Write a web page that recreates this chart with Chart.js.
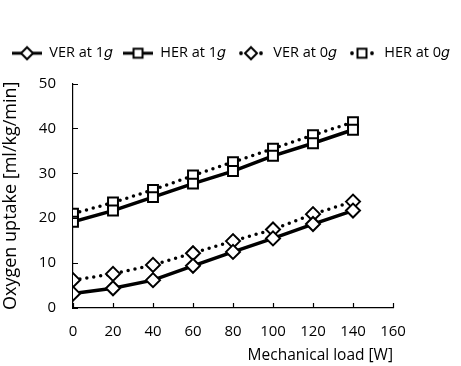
<!DOCTYPE html>
<html>
<head>
<meta charset="utf-8">
<script src="https://cdn.jsdelivr.net/npm/chart.js@4/dist/chart.umd.min.js"></script>
<style>
  html, body { margin: 0; padding: 0; background: #fff; }
  #wrap { width: 461px; height: 366px; position: relative; }
</style>
</head>
<body>
<div id="wrap"><canvas id="chart"></canvas></div>
<script>
// mechanical load [W]
const loads = [0, 20, 40, 60, 80, 100, 120, 140];
// oxygen uptake [ml/kg/min]
const ver1g = [3.2, 4.4, 6.2, 9.4, 12.5, 15.5, 18.7, 21.7];
const her1g = [19.2, 21.7, 24.7, 27.7, 30.5, 33.9, 36.7, 39.7];
const ver0g = [6.2, 7.6, 9.6, 12.2, 14.9, 17.5, 20.9, 23.7];
const her0g = [21.0, 23.5, 26.3, 29.5, 32.5, 35.5, 38.5, 41.4];
const seriesNames = ["VER at 1\u{1D454}", "HER at 1\u{1D454}", "VER at 0\u{1D454}", "HER at 0\u{1D454}"];
const xTicks = [0, 20, 40, 60, 80, 100, 120, 140, 160];
const yTicks = [0, 10, 20, 30, 40, 50];

const FONT = "'Open Sans', 'DejaVu Sans', sans-serif";

const toPoints = (ys) => loads.map((x, i) => ({ x: x, y: ys[i] }));

// little legend symbol: line (solid or dotted) with the marker in the middle
function legendSymbol(marker, dotted) {
  const c = document.createElement("canvas");
  c.width = 30;
  c.height = 16;
  const ctx = c.getContext("2d");
  ctx.fillStyle = "#000";
  if (dotted) {
    [5, 25].forEach(x => {
      ctx.beginPath();
      ctx.arc(x, 8, 1.9, 0, Math.PI * 2);
      ctx.fill();
    });
  } else {
    ctx.fillRect(0, 6.5, 30, 3);
  }
  ctx.lineWidth = 2;
  ctx.strokeStyle = "#000";
  ctx.fillStyle = "#fff";
  ctx.beginPath();
  if (marker === "rectRot") {
    ctx.moveTo(15, 2); ctx.lineTo(21, 8); ctx.lineTo(15, 14); ctx.lineTo(9, 8);
    ctx.closePath();
  } else {
    ctx.rect(10.5, 3.5, 9, 9);
  }
  ctx.fill();
  ctx.stroke();
  return c;
}

const styles = [
  { marker: "rectRot", dotted: false },
  { marker: "rect", dotted: false },
  { marker: "rectRot", dotted: true },
  { marker: "rect", dotted: true },
];
const symbols = styles.map(s => legendSymbol(s.marker, s.dotted));

function makeDataset(i, ys) {
  const s = styles[i];
  return {
    label: seriesNames[i],
    data: toPoints(ys),
    borderColor: "#000",
    backgroundColor: "#fff",
    borderWidth: 3.5,
    borderDash: s.dotted ? [0, 7] : [],
    borderCapStyle: s.dotted ? "round" : "butt",
    pointStyle: s.marker,
    pointRadius: 7,
    pointBorderWidth: 2,
    pointBackgroundColor: "#fff",
    pointBorderColor: "#000",
    tension: 0,
  };
}

// tick marks drawn inward, like the original
const innerTicks = {
  id: "innerTicks",
  afterDraw(chart) {
    const { ctx, chartArea, scales } = chart;
    ctx.save();
    ctx.strokeStyle = "#000";
    ctx.lineWidth = 1.2;
    ctx.beginPath();
    yTicks.forEach(v => {
      const py = Math.round(scales.y.getPixelForValue(v)) + 0.5;
      ctx.moveTo(chartArea.left, py);
      ctx.lineTo(chartArea.left + 5, py);
    });
    xTicks.forEach(v => {
      const px = Math.round(scales.x.getPixelForValue(v)) + 0.5;
      ctx.moveTo(px, chartArea.bottom);
      ctx.lineTo(px, chartArea.bottom - 5);
    });
    ctx.stroke();
    ctx.restore();
  }
};

// extra gap under the legend
const legendGap = {
  id: "legendGap",
  beforeInit(chart) {
    const fit = chart.legend.fit;
    chart.legend.fit = function () {
      fit.call(this);
      this.height += 13;
    };
  }
};

new Chart(document.getElementById("chart"), {
  type: "line",
  data: {
    datasets: [
      makeDataset(0, ver1g),
      makeDataset(1, her1g),
      makeDataset(2, ver0g),
      makeDataset(3, her0g),
    ],
  },
  options: {
    responsive: true,
    maintainAspectRatio: false,
    animation: false,
    layout: { padding: { top: 35, left: 0, right: 0, bottom: 1 } },
    plugins: {
      tooltip: { enabled: false },
      legend: {
        display: true,
        position: "top",
        labels: {
          usePointStyle: true,
          pointStyleWidth: 30,
          boxHeight: 14,
          padding: 11,
          color: "#000",
          font: { family: FONT, size: 14.5 },
          generateLabels(chart) {
            return chart.data.datasets.map((ds, i) => ({
              text: ds.label,
              pointStyle: symbols[i],
              fillStyle: "#fff",
              strokeStyle: "#000",
              lineWidth: 0,
              fontColor: "#000",
              datasetIndex: i,
              hidden: false,
            }));
          },
        },
      },
    },
    scales: {
      x: {
        type: "linear",
        min: 0,
        max: 160,
        afterBuildTicks(scale) { scale.ticks = xTicks.map(v => ({ value: v })); },
        afterFit(scale) { scale.height = 57; },
        grid: { display: false, drawTicks: false },
        border: { display: true, color: "#000", width: 1.2 },
        ticks: { color: "#000", padding: 15, font: { family: FONT, size: 15 } },
        title: {
          display: true,
          text: "Mechanical load [W]",
          align: "end",
          color: "#000",
          font: { family: FONT, size: 15.5 },
          padding: { top: 3, bottom: 0 },
        },
      },
      y: {
        min: 0,
        max: 50,
        afterBuildTicks(scale) { scale.ticks = yTicks.map(v => ({ value: v })); },
        afterFit(scale) { scale.width = 73; },
        grid: { display: false, drawTicks: false },
        border: { display: true, color: "#000", width: 1.2 },
        ticks: { color: "#000", padding: 17, font: { family: FONT, size: 15 } },
        title: {
          display: true,
          text: "Oxygen uptake [ml/kg/min]",
          color: "#000",
          font: { family: FONT, size: 18 },
          padding: { top: 0, bottom: 0 },
        },
      },
      y2: {
        position: "right",
        display: true,
        afterFit(scale) { scale.width = 68; },
        grid: { display: false, drawTicks: false },
        border: { display: false },
        ticks: { display: false },
      },
    },
  },
  plugins: [innerTicks, legendGap],
});
</script>
</body>
</html>
